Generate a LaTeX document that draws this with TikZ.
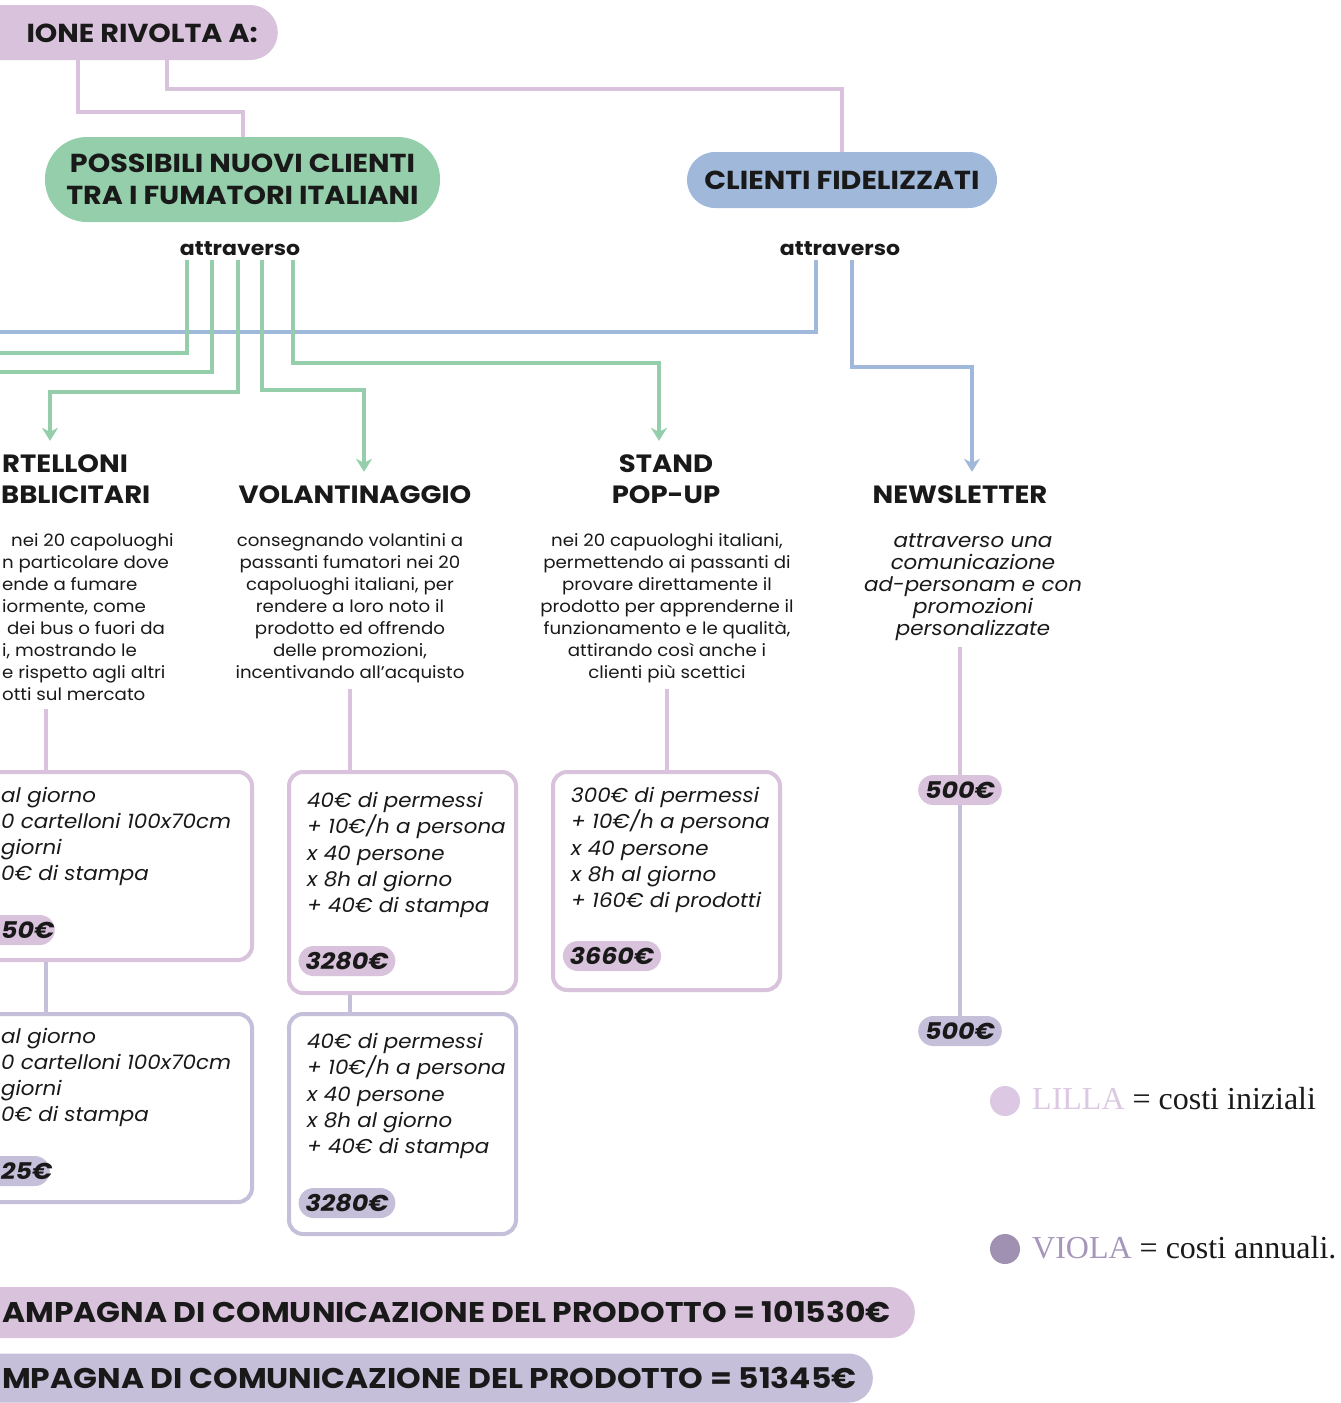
\documentclass[tikz,border=0pt]{standalone}
\usepackage{fontspec}
\setmainfont{Poppins}[FakeStretch=1.07, BoldFeatures={FakeStretch=1.1}, BoldItalicFeatures={FakeStretch=1.1}, ItalicFeatures={FakeStretch=1.07}]
\newfontfamily\legendfont{Liberation Serif}
\usetikzlibrary{arrows.meta}
\definecolor{lilla}{RGB}{217,194,219}
\definecolor{viola}{RGB}{197,191,217}
\definecolor{verde}{RGB}{148,206,170}
\definecolor{azzurro}{RGB}{160,185,218}
\definecolor{ink}{RGB}{25,25,25}
\definecolor{dotlilla}{RGB}{220,200,226}
\definecolor{dotviola}{RGB}{160,144,178}
\definecolor{txtviola}{RGB}{165,150,186}
\begin{document}
\begin{tikzpicture}[x=1pt,y=-1pt,
  every node/.style={text=ink},
  conn/.style={line width=4pt},
  arr/.style={-{Stealth[length=13pt,width=16pt,inset=4pt]}, shorten >=12pt},
  capf/.style={font=\bfseries\fontsize{26}{32}\selectfont},
  attf/.style={font=\bfseries\fontsize{20}{24}\selectfont},
  secf/.style={font=\bfseries\fontsize{25}{31}\selectfont, inner sep=2pt},
  descf/.style={font=\fontsize{17}{22}\selectfont, inner sep=0pt},
  itf/.style={font=\itshape\fontsize{20}{26.3}\selectfont, inner sep=0pt},
  numpill/.style={font=\bfseries\itshape\fontsize{23}{26}\selectfont, rounded corners=15pt, minimum height=30pt, inner xsep=7pt, inner ysep=0pt},
  costbox/.style={draw, line width=4pt, rounded corners=14pt, fill=white, inner sep=0pt},
  barf/.style={font=\bfseries\fontsize{28.5}{30}\selectfont, inner sep=0pt},
  legf/.style={font=\legendfont\fontsize{32}{36}\selectfont, inner sep=0pt}
]
\useasboundingbox (0,0) rectangle (1341,1403);

% ---- top pill
\node[fill=lilla, rounded corners=27.5pt, minimum width=600pt, minimum height=55pt, inner sep=0pt, anchor=east] (toppill) at (278,32.5) {};
\node[capf, anchor=east, inner sep=0pt] (toptext) at (258,33) {IONE RIVOLTA A:};

% ---- target pills
\node[fill=verde, rounded corners=42pt, minimum width=395pt, minimum height=85pt, capf, align=center] (nuovi) at (242.5,179.5) {POSSIBILI NUOVI CLIENTI\\TRA I FUMATORI ITALIANI};
\node[fill=azzurro, rounded corners=28pt, minimum width=310pt, minimum height=56pt, capf] (fidel) at (842,180) {CLIENTI FIDELIZZATI};

\draw[conn, lilla] (78,0 |- toppill.south) -- (78,112) -| (nuovi.north);
\draw[conn, lilla] (167,0 |- toppill.south) -- (167,89) -| (fidel.north);

\node[attf] (att1) at (240,249) {attraverso};
\node[attf] (att2) at (840,249) {attraverso};

% ---- headings
\node[secf, anchor=west, inner xsep=0pt] (cart1) at (2,464) {RTELLONI};
\node[secf, anchor=west, inner xsep=0pt] (cart2) at (1,495) {BBLICITARI};
\node[secf] (volh) at (355,495) {VOLANTINAGGIO};
\node[secf, align=center] (standh) at (666,479.5) {STAND\\POP-UP};
\node[secf] (newsh) at (960,495) {NEWSLETTER};

% ---- connectors
\coordinate (bl) at (0,332);
\coordinate (gl1) at (0,353);
\coordinate (gl2) at (0,372);
\draw[conn, azzurro] (816,0 |- att2.south) |- (bl);
\draw[conn, verde] (187,0 |- att1.south) |- (gl1);
\draw[conn, verde] (212,0 |- att1.south) |- (gl2);
\draw[conn, verde, arr] (238,0 |- att1.south) -- (238,392) -| (50,0 |- cart1.north);
\draw[conn, verde, arr] (262,0 |- att1.south) -- (262,390) -| ([xshift=9pt]volh.north);
\draw[conn, verde, arr] (293,0 |- att1.south) -- (293,363) -| ([xshift=-7pt]standh.north);
\draw[conn, azzurro, arr] (852,0 |- att2.south) -- (852,367) -| ([xshift=12pt]newsh.north);

% ---- descriptions
\foreach \t/\l/\y [count=\i] in {{nei 20 capoluoghi}/11/540, {n particolare dove}/2/562, {ende a fumare}/2/584, {iormente, come}/2/606, {dei bus o fuori da}/7/628, {i, mostrando le}/2/650, {e rispetto agli altri}/2/672, {otti sul mercato}/2/694}
  \node[descf, anchor=base west] (cd\i) at (\l,\y+6) {\t};

\node[descf, align=center, anchor=north] (voldesc) at (350,533) {consegnando volantini a\\passanti fumatori nei 20\\capoluoghi italiani, per\\rendere a loro noto il\\prodotto ed offrendo\\delle promozioni,\\incentivando all'acquisto};
\node[descf, align=center, anchor=north] (standdesc) at (667,533) {nei 20 capuologhi italiani,\\permettendo ai passanti di\\provare direttamente il\\prodotto per apprenderne il\\funzionamento e le qualità,\\attirando così anche i\\clienti più scettici};
\node[font=\itshape\fontsize{20}{22}\selectfont, inner sep=0pt, align=center, anchor=north] (newsdesc) at (973,534) {attraverso una\\comunicazione\\ad-personam e con\\promozioni\\personalizzate};

% ---- cost boxes
\node[costbox, draw=lilla, minimum width=292pt, minimum height=188pt] (cb1) at (106,866) {};
\node[costbox, draw=viola, minimum width=292pt, minimum height=188pt] (cb2) at (106,1108) {};
\node[costbox, draw=lilla, minimum width=227pt, minimum height=221pt] (vb1) at (402.5,882.5) {};
\node[costbox, draw=viola, minimum width=227pt, minimum height=220pt] (vb2) at (402.5,1124) {};
\node[costbox, draw=lilla, minimum width=227pt, minimum height=218pt] (sb) at (666.5,881) {};

\draw[conn, lilla, shorten <=9pt] (46,0 |- cd8.south) -- (46,0 |- cb1.north);
\draw[conn, lilla, shorten <=6pt] (voldesc.south) -- (voldesc.south |- vb1.north);
\draw[conn, lilla, shorten <=6pt] (standdesc.south) -- (standdesc.south |- sb.north);
\draw[conn, viola] (46,0 |- cb1.south) -- (46,0 |- cb2.north);
\draw[conn, viola] (350,0 |- vb1.south) -- (350,0 |- vb2.north);

% ---- box texts
\foreach \t/\y [count=\i] in {{al giorno}/795, {0 cartelloni 100x70cm}/821, {giorni}/847, {0€ di stampa}/873}
  \node[itf, anchor=base west] (ca\i) at (1,\y+7) {\t};
\foreach \t/\y [count=\i] in {{al giorno}/1036, {0 cartelloni 100x70cm}/1062, {giorni}/1088, {0€ di stampa}/1114}
  \node[itf, anchor=base west] (cv\i) at (1,\y+7) {\t};
\node[itf, align=left, anchor=north west] (vt1) at (307,792) {40€ di permessi\\+ 10€/h a persona\\x 40 persone\\x 8h al giorno\\+ 40€ di stampa};
\node[itf, align=left, anchor=north west] (vt2) at (307,1033) {40€ di permessi\\+ 10€/h a persona\\x 40 persone\\x 8h al giorno\\+ 40€ di stampa};
\node[itf, align=left, anchor=north west] (st1) at (571,787) {300€ di permessi\\+ 10€/h a persona\\x 40 persone\\x 8h al giorno\\+ 160€ di prodotti};

% ---- cost pills
\node[numpill, fill=lilla, anchor=east, minimum width=120pt] (cp1) at (55,930) {};
\node[numpill, fill=none, anchor=west, inner xsep=0pt] (cp1t) at (1,930) {50€};
\node[numpill, fill=viola, anchor=east, minimum width=120pt] (cp2) at (50,1171) {};
\node[numpill, fill=none, anchor=west, inner xsep=0pt] (cp2t) at (1,1171) {25€};
\node[numpill, fill=lilla] (vp1) at (347,961) {3280€};
\node[numpill, fill=viola] (vp2) at (347,1203) {3280€};
\node[numpill, fill=lilla] (sp1) at (612,956) {3660€};
\node[numpill, fill=lilla] (np1) at (960,790) {500€};
\node[numpill, fill=viola] (np2) at (960,1031) {500€};
\draw[conn, lilla, shorten <=6pt] (960,0 |- newsdesc.south) -- (np1.north);
\draw[conn, viola] (np1.south) -- (np2.north);

% ---- bottom bars
\node[fill=lilla, rounded corners=25pt, minimum height=51pt, minimum width=1000pt, anchor=east, inner sep=0pt] (bar1) at (915,1312.5) {};
\node[barf, anchor=west] (bar1t) at (2,1312) {AMPAGNA DI COMUNICAZIONE DEL PRODOTTO = 101530€};
\node[fill=viola, rounded corners=24pt, minimum height=49pt, minimum width=1000pt, anchor=east, inner sep=0pt] (bar2) at (873,1378) {};
\node[barf, anchor=west] (bar2t) at (2,1378) {MPAGNA DI COMUNICAZIONE DEL PRODOTTO = 51345€};

% ---- legend
\node[circle, fill=dotlilla, minimum size=30pt, inner sep=0pt] (d1) at (1005,1101) {};
\node[legf, anchor=west] (l1) at (1032,1099) {\textcolor{dotlilla}{LILLA} = costi iniziali};
\node[circle, fill=dotviola, minimum size=30pt, inner sep=0pt] (d2) at (1005,1249) {};
\node[legf, anchor=west] (l2) at (1032,1248) {\textcolor{txtviola}{VIOLA} = costi annuali.};
\end{tikzpicture}
\end{document}
